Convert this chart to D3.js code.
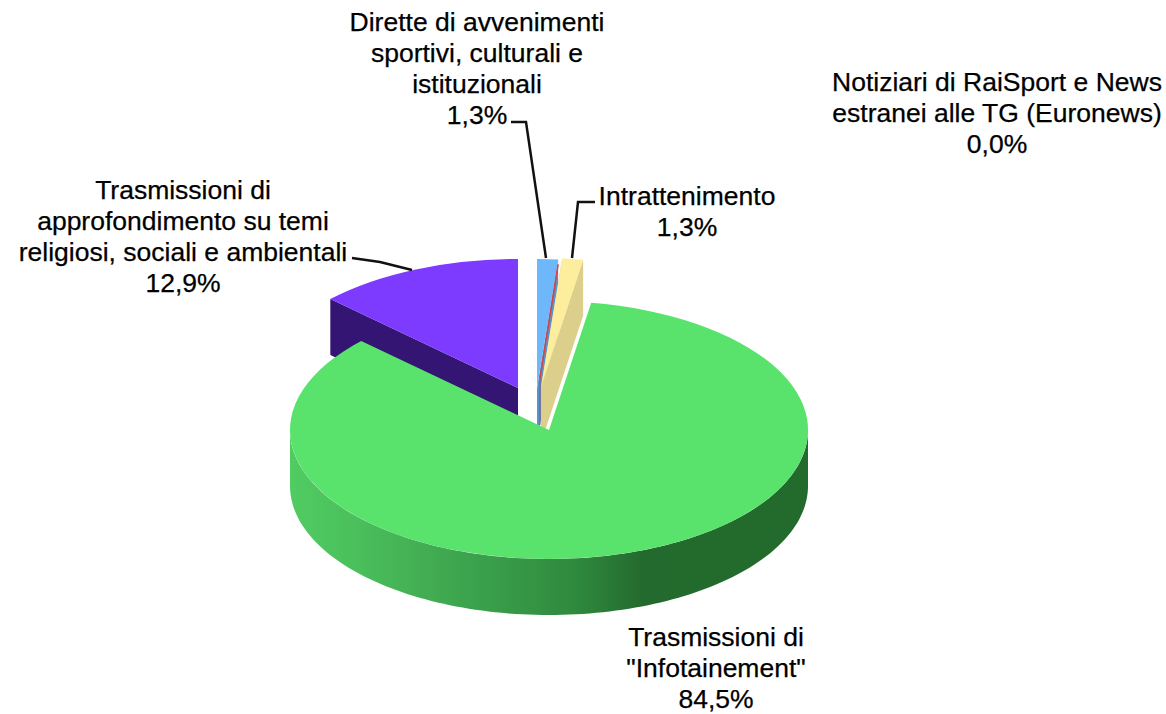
<!DOCTYPE html>
<html>
<head>
<meta charset="utf-8">
<script src="https://cdn.jsdelivr.net/npm/d3@7"></script>
<style>
  html, body { margin: 0; padding: 0; background: #fff; }
  text { font-family: "Liberation Sans", Arial, sans-serif; font-size: 26.5px; fill: #000; stroke: #000; stroke-width: 0.25px; }
</style>
</head>
<body>
<svg id="chart" width="1166" height="714"></svg>
<script>
// clockwise from 12 o'clock
var names = ["Dirette", "Notiziari", "Intrattenimento", "Infotainment", "Approfondimento"];
var shares = [1.3, 0.0, 1.3, 84.5, 12.9];
var shareLabels = ["1,3%", "0,0%", "1,3%", "84,5%", "12,9%"];
var labelLines = [
  ["Dirette di avvenimenti", "sportivi, culturali e", "istituzionali"],
  ["Notiziari di RaiSport e News", "estranei alle TG (Euronews)"],
  ["Intrattenimento"],
  ["Trasmissioni di", "\"Infotainement\""],
  ["Trasmissioni di", "approfondimento su temi", "religiosi, sociali e ambientali"]
];
var topColors = ["#6fb7fb", "#d9403f", "#fdee9d", "#59e26c", "#7d3bff"];
var wallColors = ["#5a93cc", "#a83232", "#dccf8c", "#2f8a3e", "#341574"];

// layout
var rx = 259, ry = 129, depth = 56;
var centers = [[537, 388], [538, 388], [541, 387], [549, 430], [518, 388]];
var labelX = [477, 997, 687, 716, 183];
var labelY = [31, 91, 205, 646, 199];
var lineH = 31;
var leaders = [
  [[511, 122], [526, 122], [546, 258]],
  null,
  [[595, 202], [578, 202], [572, 258]],
  null,
  [[352, 258], [380, 262], [412, 270]]
];

var svg = d3.select("#chart");
var defs = svg.append("defs");

// shading on the outer wall of the big slice
var grad = defs.append("linearGradient")
  .attr("id", "greenWall")
  .attr("gradientUnits", "userSpaceOnUse")
  .attr("x1", 290).attr("x2", 808).attr("y1", 0).attr("y2", 0);
grad.append("stop").attr("offset", "0").attr("stop-color", "#50cc62");
grad.append("stop").attr("offset", "0.12").attr("stop-color", "#4bc05c");
grad.append("stop").attr("offset", "0.35").attr("stop-color", "#3ca24d");
grad.append("stop").attr("offset", "0.55").attr("stop-color", "#2f8a3e");
grad.append("stop").attr("offset", "0.68").attr("stop-color", "#246a2e");
grad.append("stop").attr("offset", "1").attr("stop-color", "#236a2d");

var pie = d3.pie().sort(null).value(function(d) { return d; });
var arcs = pie(shares);
var unitArc = d3.arc().innerRadius(0).outerRadius(1);

function px(c, a) { return c[0] + rx * Math.sin(a); }
function py(c, a) { return c[1] - ry * Math.cos(a); }

// outer rim, only where it faces the viewer
function rimPath(c, a0, a1) {
  var from = Math.max(a0, Math.PI / 2), to = Math.min(a1, Math.PI * 1.5);
  if (to <= from) return null;
  var pts = d3.range(0, 121).map(function(i) { return from + (to - from) * i / 120; });
  var top = pts.map(function(a) { return [px(c, a), py(c, a)]; });
  var bottom = pts.slice().reverse().map(function(a) { return [px(c, a), py(c, a) + depth]; });
  return d3.line()(top.concat(bottom)) + "Z";
}

// flat cut face from the centre out to the rim
function cutPath(c, a) {
  return d3.line()([
    [c[0], c[1]], [px(c, a), py(c, a)],
    [px(c, a), py(c, a) + depth], [c[0], c[1] + depth]
  ]) + "Z";
}

function topFace(i) {
  var c = centers[i];
  svg.append("path")
    .attr("transform", "translate(" + c[0] + "," + c[1] + ") scale(" + rx + "," + ry + ")")
    .attr("d", unitArc(arcs[i]))
    .attr("fill", topColors[i]);
}

// purple first, it sits behind everything
var pu = 4;
svg.append("path").attr("d", cutPath(centers[pu], arcs[pu].startAngle)).attr("fill", wallColors[pu]);
topFace(pu);

// blue, its cut face shows as a strip left of the yellow slice
svg.append("path").attr("d", cutPath(centers[0], arcs[0].endAngle)).attr("fill", wallColors[0]);
topFace(0);

// yellow, wall on its right side
svg.append("path").attr("d", cutPath(centers[2], arcs[2].endAngle)).attr("fill", wallColors[2]);
svg.append("path").attr("d", cutPath(centers[2], arcs[2].startAngle)).attr("fill", wallColors[2]);
topFace(2);

// the empty slice is only a thin red sliver between blue and yellow
var redEnd = [px(centers[0], arcs[1].endAngle), py(centers[0], arcs[1].endAngle)];
svg.append("line")
  .attr("x1", centers[1][0] + 2).attr("y1", centers[1][1] - 10)
  .attr("x2", redEnd[0]).attr("y2", redEnd[1] + 5)
  .attr("stroke", topColors[1]).attr("stroke-width", 1.5);
svg.append("line")
  .attr("x1", centers[1][0] + 2).attr("y1", centers[1][1] - 10)
  .attr("x2", centers[1][0] + 2).attr("y2", centers[1][1] + depth - 19)
  .attr("stroke", wallColors[1]).attr("stroke-width", 1).attr("stroke-opacity", 0.6);

// green last, with the white gap along its cut edge
var gr = 3;
svg.append("path")
  .attr("d", rimPath(centers[gr], arcs[gr].startAngle, arcs[gr].endAngle))
  .attr("fill", "url(#greenWall)");
svg.append("path")
  .attr("transform", "translate(" + centers[gr][0] + "," + centers[gr][1] + ") scale(" + rx + "," + ry + ")")
  .attr("d", unitArc(arcs[gr]))
  .attr("fill", topColors[gr]);

// leader lines
leaders.forEach(function(pts) {
  if (!pts) return;
  svg.append("path")
    .attr("d", d3.line()(pts))
    .attr("fill", "none")
    .attr("stroke", "#111")
    .attr("stroke-width", 2.5);
});

// labels
names.forEach(function(n, i) {
  var lines = labelLines[i].concat([shareLabels[i]]);
  var t = svg.append("text")
    .attr("text-anchor", "middle")
    .attr("x", labelX[i])
    .attr("y", labelY[i]);
  lines.forEach(function(s, j) {
    t.append("tspan")
      .attr("x", labelX[i])
      .attr("dy", j == 0 ? 0 : lineH)
      .text(s);
  });
});
</script>
</body>
</html>
